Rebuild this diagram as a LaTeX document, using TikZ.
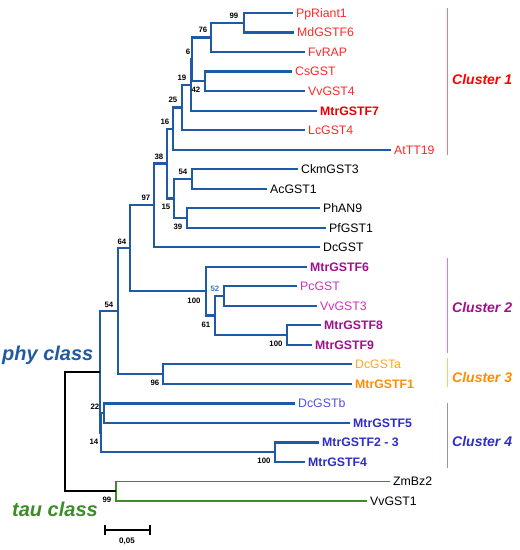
\documentclass[tikz,border=0pt]{standalone}
\usepackage{fontspec}
\setmainfont{Liberation Sans}
\definecolor{phyblue}{RGB}{31,90,166}
\definecolor{taugreen}{RGB}{60,140,40}
\definecolor{cAred}{RGB}{255,40,40}
\definecolor{cAbold}{RGB}{230,0,0}
\definecolor{cBnorm}{RGB}{205,50,185}
\definecolor{cBbold}{RGB}{160,16,140}
\definecolor{cCnorm}{RGB}{255,165,40}
\definecolor{cCbold}{RGB}{255,140,0}
\definecolor{cDnorm}{RGB}{80,80,230}
\definecolor{cDbold}{RGB}{45,45,200}
\definecolor{barA}{RGB}{245,120,120}
\definecolor{barB}{RGB}{240,110,215}
\definecolor{barC}{RGB}{255,200,100}
\definecolor{barD}{RGB}{140,140,235}
\definecolor{bsblue}{RGB}{60,120,190}
\tikzset{
  br/.style={draw=phyblue, line width=2.2pt},
  rootbr/.style={draw=black, line width=2.2pt},
  taubr/.style={draw=taugreen, line width=1.8pt},
  leaf/.style={anchor=west, inner sep=0pt, xshift=3pt, text height=8.8pt, text depth=0pt, font=\fontsize{12.3}{14}\selectfont},
  bleaf/.style={leaf, font=\bfseries\fontsize{12.3}{14}\selectfont},
  bs/.style={inner sep=0pt, text height=5.6pt, text depth=0pt, font=\bfseries\fontsize{7.8}{9}\selectfont},
  clab/.style={anchor=west, inner sep=0pt, text height=10pt, text depth=0pt, font=\bfseries\itshape\fontsize{14}{16}\selectfont},
  cbar/.style={line width=1pt},
  classlab/.style={anchor=west, inner sep=0pt, font=\bfseries\itshape\fontsize{20}{22}\selectfont},
  sbar/.style={draw=black, line width=1.5pt}
}
\begin{document}
\begin{tikzpicture}[x=1pt, y=-1pt]
\useasboundingbox (0,0) rectangle (520,550);
% leaf tips
\coordinate (t0) at (293,13.0);
\coordinate (t1) at (294,32.52);
\coordinate (t2) at (305,52.04);
\coordinate (t3) at (292,71.56);
\coordinate (t4) at (305,91.08);
\coordinate (t5) at (317,110.6);
\coordinate (t6) at (305,130.12);
\coordinate (t7) at (391,149.64);
\coordinate (t8) at (298,169.16);
\coordinate (t9) at (267,188.68);
\coordinate (t10) at (320,208.2);
\coordinate (t11) at (326,227.72);
\coordinate (t12) at (320,247.24);
\coordinate (t13) at (307,266.76);
\coordinate (t14) at (297,286.28);
\coordinate (t15) at (317,305.8);
\coordinate (t16) at (321,325.32);
\coordinate (t17) at (312,344.84);
\coordinate (t18) at (352,364.36);
\coordinate (t19) at (352,383.88);
\coordinate (t20) at (295,403.4);
\coordinate (t21) at (350,422.92);
\coordinate (t22) at (319,442.44);
\coordinate (t23) at (305,461.96);
\coordinate (t24) at (390,481.48);
\coordinate (t25) at (367,501.0);
% internal nodes
\coordinate (n99) at (244,22.76);
\coordinate (n76) at (211,37.4);
\coordinate (n42) at (205,81.32);
\coordinate (n6) at (192,59.36);
\coordinate (n19) at (191,84.98);
\coordinate (n25) at (182,107.55);
\coordinate (n16) at (173,128.6);
\coordinate (n54a) at (192,178.92);
\coordinate (n39) at (187,217.96);
\coordinate (n15) at (174,198.44);
\coordinate (n38) at (167,163.52);
\coordinate (n97) at (154,205.38);
\coordinate (n52) at (224,296.04);
\coordinate (n100b) at (287,335.08);
\coordinate (n61) at (215,315.56);
\coordinate (n100a) at (206,291.16);
\coordinate (n64) at (130,248.27);
\coordinate (n96) at (163,374.12);
\coordinate (n54b) at (118,311.2);
\coordinate (n22) at (104,413.16);
\coordinate (n100c) at (275,452.2);
\coordinate (n14) at (101,432.68);
\coordinate (nphy) at (100,371.94);
\coordinate (ntau) at (116,491.24);
\coordinate (nroot) at (65,431.59);
% branches
\draw[br] (n99) |- (t0) (n99) |- (t1);
\draw[br] (n76) |- (n99) (n76) |- (t2);
\draw[br] (n42) |- (t3) (n42) |- (t4);
\draw[br] (n6) |- (n76) (n6) |- (n42);
\draw[br] (n19) |- (n6) (n19) |- (t5);
\draw[br] (n25) |- (n19) (n25) |- (t6);
\draw[br] (n16) |- (n25) (n16) |- (t7);
\draw[br] (n54a) |- (t8) (n54a) |- (t9);
\draw[br] (n39) |- (t10) (n39) |- (t11);
\draw[br] (n15) |- (n54a) (n15) |- (n39);
\draw[br] (n38) |- (n16) (n38) |- (n15);
\draw[br] (n97) |- (n38) (n97) |- (t12);
\draw[br] (n52) |- (t14) (n52) |- (t15);
\draw[br] (n100b) |- (t16) (n100b) |- (t17);
\draw[br] (n61) |- (n52) (n61) |- (n100b);
\draw[br] (n100a) |- (t13) (n100a) |- (n61);
\draw[br] (n64) |- (n97) (n64) |- (n100a);
\draw[br] (n96) |- (t18) (n96) |- (t19);
\draw[br] (n54b) |- (n64) (n54b) |- (n96);
\draw[br] (n22) |- (t20) (n22) |- (t21);
\draw[br] (n100c) |- (t22) (n100c) |- (t23);
\draw[br] (n14) |- (n22) (n14) |- (n100c);
\draw[br] (nphy) |- (n54b) (nphy) |- (n14);
\draw[taubr] (ntau) |- (t24) (ntau) |- (t25);
\draw[rootbr] (nroot) |- (nphy) (nroot) |- (ntau);
% leaf labels
\node[leaf, text=cAred] (l0) at (t0) {PpRiant1};
\node[leaf, text=cAred] (l1) at (t1) {MdGSTF6};
\node[leaf, text=cAred] (l2) at (t2) {FvRAP};
\node[leaf, text=cAred] (l3) at (t3) {CsGST};
\node[leaf, text=cAred] (l4) at (t4) {VvGST4};
\node[bleaf, text=cAbold] (l5) at (t5) {MtrGSTF7};
\node[leaf, text=cAred] (l6) at (t6) {LcGST4};
\node[leaf, text=cAred] (l7) at (t7) {AtTT19};
\node[leaf] (l8) at (t8) {CkmGST3};
\node[leaf] (l9) at (t9) {AcGST1};
\node[leaf] (l10) at (t10) {PhAN9};
\node[leaf] (l11) at (t11) {PfGST1};
\node[leaf] (l12) at (t12) {DcGST};
\node[bleaf, text=cBbold] (l13) at (t13) {MtrGSTF6};
\node[leaf, text=cBnorm] (l14) at (t14) {PcGST};
\node[leaf, text=cBnorm] (l15) at (t15) {VvGST3};
\node[bleaf, text=cBbold] (l16) at (t16) {MtrGSTF8};
\node[bleaf, text=cBbold] (l17) at (t17) {MtrGSTF9};
\node[leaf, text=cCnorm] (l18) at (t18) {DcGSTa};
\node[bleaf, text=cCbold] (l19) at (t19) {MtrGSTF1};
\node[leaf, text=cDnorm] (l20) at (t20) {DcGSTb};
\node[bleaf, text=cDbold] (l21) at (t21) {MtrGSTF5};
\node[bleaf, text=cDbold] (l22) at (t22) {MtrGSTF2 - 3};
\node[bleaf, text=cDbold] (l23) at (t23) {MtrGSTF4};
\node[leaf] (l24) at (t24) {ZmBz2};
\node[leaf] (l25) at (t25) {VvGST1};
% bootstrap values
\node[bs] (b99) at (234,16) {99};
\node[bs] (b76) at (203,30) {76};
\node[bs] (b6) at (188,52) {6};
\node[bs] (b19) at (182,78) {19};
\node[bs] (b42) at (196,90) {42};
\node[bs] (b25) at (173,100) {25};
\node[bs] (b16) at (165,122) {16};
\node[bs] (b38) at (159,157) {38};
\node[bs] (b54a) at (183,172) {54};
\node[bs] (b15) at (166,207) {15};
\node[bs] (b39) at (178,227) {39};
\node[bs] (b97) at (146,198) {97};
\node[bs] (b64) at (122,242) {64};
\node[bs] (b100a) at (194,301) {100};
\node[bs, text=bsblue] (b52) at (215,289) {52};
\node[bs] (b61) at (206,325) {61};
\node[bs] (b100b) at (276,344) {100};
\node[bs] (b54b) at (109,305) {54};
\node[bs] (b96) at (155,383) {96};
\node[bs] (b22) at (95,407) {22};
\node[bs] (b14) at (94,442) {14};
\node[bs] (b100c) at (264,461) {100};
\node[bs] (b99t) at (107,500) {99};
% cluster bars
\coordinate (cA1) at (447,8); \coordinate (cA2) at (447,155);
\coordinate (cB1) at (447,258); \coordinate (cB2) at (447,353);
\coordinate (cC1) at (447,358); \coordinate (cC2) at (447,387);
\coordinate (cD1) at (447,403); \coordinate (cD2) at (447,468);
\draw[cbar, barA] (cA1) -- (cA2);
\draw[cbar, barB] (cB1) -- (cB2);
\draw[cbar, barC] (cC1) -- (cC2);
\draw[cbar, barD] (cD1) -- (cD2);
\node[clab, text=red] (kA) at (452,79) {Cluster 1};
\node[clab, text=cBbold] (kB) at (452,307) {Cluster 2};
\node[clab, text=cCbold] (kC) at (452,377) {Cluster 3};
\node[clab, text=cDbold] (kD) at (452,441) {Cluster 4};
% class labels
\node[classlab, text=phyblue] (phy) at (2,355) {phy class};
\node[classlab, text=taugreen] (tau) at (12,509) {tau class};
% scale bar
\coordinate (sb1) at (105,530);
\coordinate (sb2) at (150,530);
\draw[sbar] (sb1) -- (sb2);
\draw[sbar] (sb1) ++(0,-5) -- ++(0,10);
\draw[sbar] (sb2) ++(0,-5) -- ++(0,10);
\node[bs, font=\bfseries\fontsize{8}{9}\selectfont] (sbl) at (127,541) {0,05};
\end{tikzpicture}
\end{document}
